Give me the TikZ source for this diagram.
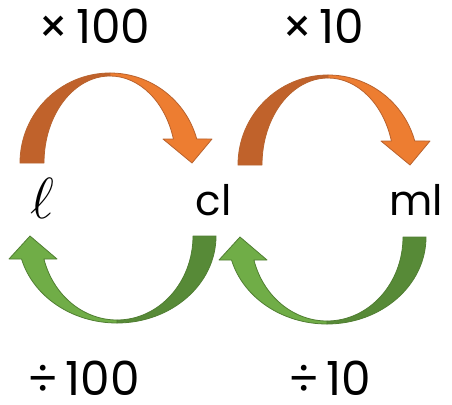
\RequirePackage{fix-cm}
\documentclass[tikz,border=0pt]{standalone}
\usepackage{fontspec}
\setmainfont{Poppins}
\usetikzlibrary{positioning}

\definecolor{orangeDark}{HTML}{C0622B}
\definecolor{orangeLight}{HTML}{ED7D31}
\definecolor{orangeLine}{HTML}{B8622E}
\definecolor{greenDark}{HTML}{578A37}
\definecolor{greenLight}{HTML}{70AD47}
\definecolor{greenLine}{HTML}{507E32}

\begin{document}
\begin{tikzpicture}[
    x=1pt, y=1pt,
    every node/.style = {inner sep=0pt},
    op/.style         = {font=\fontsize{47}{56}\selectfont},
    unit/.style       = {font=\fontsize{42}{50}\selectfont},
    band/.style       = {line width=0.8pt, line join=round},
    % multiply arrow, centre at the foot of the arch
    downarc/.pic = {
      \filldraw[band, draw=orangeLine, fill=orangeDark]
        (-90,0) arc[start angle=180, end angle=90, x radius=90, y radius=90]
        -- (0,87) arc[start angle=90, end angle=180, x radius=66, y radius=87]
        -- cycle;
      \filldraw[band, draw=orangeLine, fill=orangeLight]
        (0,90) arc[start angle=90, end angle=15.47, x radius=90, y radius=90]
        -- (102,24) -- (82,0) -- (53,24)
        -- (63.4,24) arc[start angle=16, end angle=90, x radius=66, y radius=87]
        -- cycle;
    },
    % divide arrow, centre at the top of the bowl
    uparc/.pic = {
      \filldraw[band, draw=greenLine, fill=greenDark]
        (99,0) arc[start angle=0, end angle=-90, x radius=99, y radius=87]
        -- (0,-84) arc[start angle=-90, end angle=0, x radius=76, y radius=84]
        -- cycle;
      \filldraw[band, draw=greenLine, fill=greenLight]
        (0,-87) arc[start angle=270, end angle=195.33, x radius=99, y radius=87]
        -- (-108,-23) -- (-87,0) -- (-60,-23)
        -- (-73.1,-23) arc[start angle=195.89, end angle=270, x radius=76, y radius=84]
        -- cycle;
    }
]
\useasboundingbox (0,0) rectangle (452,-404);

% Arrows
\pic at (110,-163) {downarc};
\pic at (328,-165) {downarc};
\pic at (117,-236) {uparc};
\pic at (327,-237) {uparc};

% Operations
\node[op] (mul100) at (94.5,-26) {×\hspace{0.15em}100};
\node[op] (mul10)  at (323.5,-26) {×\hspace{0.15em}10};
\node[op] (div100) at (84,-378) {÷\hspace{0.15em}100};
\node[op] (div10)  at (330,-378) {÷\hspace{0.15em}10};

% Units
\node[unit, font=\fontsize{58}{64}\selectfont] (litre) at (42,-198) {$\ell$};
\node[unit] (cl) at (213.5,-200) {cl};
\node[unit] (ml) at (416,-200) {ml};

\end{tikzpicture}
\end{document}
